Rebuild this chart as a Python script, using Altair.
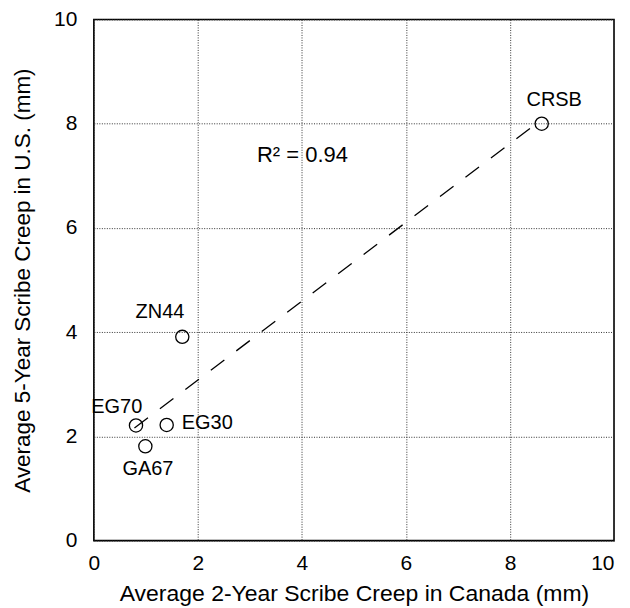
import altair as alt
import pandas as pd

names = ["CRSB", "ZN44", "EG70", "EG30", "GA67"]
canada = [8.61, 1.70, 0.81, 1.40, 0.99]
us = [8.00, 3.91, 2.21, 2.22, 1.81]

label_x = [8.85, 1.27, 0.44, 2.18, 1.04]
label_y = [8.45, 4.39, 2.57, 2.26, 1.38]

fit_x = [0.78, 8.45]
fit_y = [2.16, 7.96]

r2_text = ["R\u00b2 = 0.94"]
r2_x = [4.01]
r2_y = [7.39]

ticks = [0, 2, 4, 6, 8, 10]

pts = pd.DataFrame({"name": names, "x": canada, "y": us})
labs = pd.DataFrame({"name": names, "x": label_x, "y": label_y})
fit = pd.DataFrame({"x": fit_x, "y": fit_y})
r2 = pd.DataFrame({"t": r2_text, "x": r2_x, "y": r2_y})

FONT = "Liberation Sans"

xs = alt.Scale(domain=[0, 10], nice=False, zero=False)
ys = alt.Scale(domain=[0, 10], nice=False, zero=False)

xaxis = alt.Axis(values=ticks, title="Average 2-Year Scribe Creep in Canada (mm)",
                 grid=True, gridColor="#333333", gridDash=[1, 1.5], gridWidth=1,
                 domain=False, ticks=False, labelFontSize=21, labelFont=FONT,
                 labelColor="black", labelPadding=12, titleFont=FONT, titleFontSize=23,
                 titleFontWeight="normal", titleColor="black", titlePadding=9,
                 labelFlush=False,
                 labelAlign=alt.expr("datum.value == 10 ? 'right' : 'center'"))
yaxis = alt.Axis(values=ticks, title="Average 5-Year Scribe Creep in U.S. (mm)",
                 grid=True, gridColor="#333333", gridDash=[1, 1.5], gridWidth=1,
                 domain=False, ticks=False, labelFontSize=21, labelFont=FONT,
                 labelColor="black", labelPadding=17, titleFont=FONT, titleFontSize=22.5,
                 titleFontWeight="normal", titleColor="black", titlePadding=19,
                 labelFlush=False)

line = alt.Chart(fit).mark_line(color="black", strokeWidth=1.3, strokeDash=[17, 15]).encode(
    x=alt.X("x:Q", scale=xs, axis=xaxis),
    y=alt.Y("y:Q", scale=ys, axis=yaxis),
)

points = alt.Chart(pts).mark_point(shape="circle", filled=False, color="black",
                                   size=175, strokeWidth=1.3, opacity=1).encode(
    x=alt.X("x:Q", scale=xs),
    y=alt.Y("y:Q", scale=ys),
)

labels = alt.Chart(labs).mark_text(font=FONT, fontSize=20, color="black",
                                   align="center", baseline="middle").encode(
    x=alt.X("x:Q", scale=xs),
    y=alt.Y("y:Q", scale=ys),
    text="name:N",
)

r2t = alt.Chart(r2).mark_text(font=FONT, fontSize=22, color="black",
                              align="center", baseline="middle").encode(
    x=alt.X("x:Q", scale=xs),
    y=alt.Y("y:Q", scale=ys),
    text="t:N",
)

chart = alt.layer(line, points, labels, r2t).properties(
    width=521, height=522,
    padding={"left": 86, "top": 11, "right": 8, "bottom": 72},
    autosize=alt.AutoSizeParams(type="none"),
    background="white",
).configure_view(stroke="black", strokeWidth=1.6)

chart.save("out.html", embed_options={"renderer": "svg", "actions": False})
